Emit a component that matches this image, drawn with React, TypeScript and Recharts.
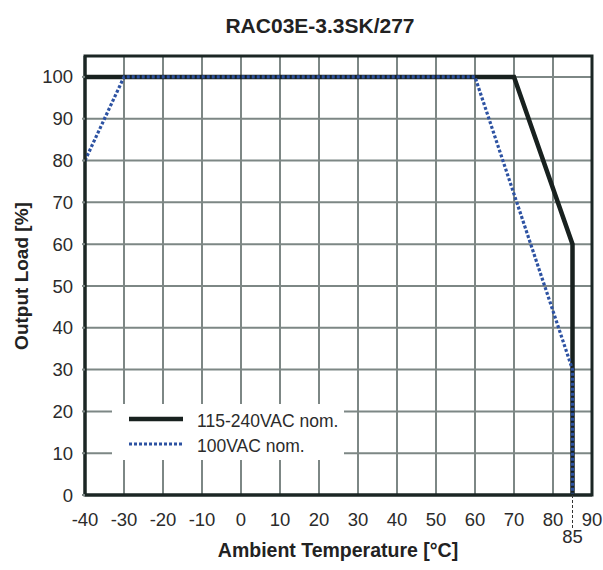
import React from 'react';
import { LineChart, Line, XAxis, YAxis, CartesianGrid, ReferenceArea, Legend } from 'recharts';

// axis ticks
const tempTicks = [-40, -30, -20, -10, 0, 10, 20, 30, 40, 50, 60, 70, 80, 90];
const loadTicks = [0, 10, 20, 30, 40, 50, 60, 70, 80, 90, 100];
const ratedTemp = 85;

// derating curves, ambient temperature [°C] -> output load [%]
const seriesNames = ['115-240VAC nom.', '100VAC nom.'];
const nominalInput = [
    { temp: -40, load: 100 },
    { temp: 70, load: 100 },
    { temp: 85, load: 60 },
    { temp: 85, load: 0 },
];
const lowInput = [
    { temp: -40, load: 80 },
    { temp: -30, load: 100 },
    { temp: 60, load: 100 },
    { temp: 85, load: 30 },
    { temp: 85, load: 0 },
];

const FONT = "'Liberation Sans', Arial, sans-serif";
const TEXT = '#2b2b2b';
const FRAME = '#1b2624';
const GRID = '#7d8785';
const BLUE = '#2d52a2';

const TempTick = (props: any) => {
    const { x, y, payload } = props;
    if (payload.value === ratedTemp) {
        return (
            <g>
                <line x1={x} x2={x} y1={y} y2={y + 33} stroke="#333" strokeWidth={1} strokeDasharray="3 2" />
                <text x={x} y={y + 48} textAnchor="middle" fill={TEXT} fontSize={18.5} fontFamily={FONT}>
                    {payload.value}
                </text>
            </g>
        );
    }
    return (
        <text x={x} y={y + 31} textAnchor="middle" fill={TEXT} fontSize={18.5} fontFamily={FONT}>
            {payload.value}
        </text>
    );
};

const LegendBox = (props: any) => {
    const items = [...(props.payload || [])].sort(
        (a: any, b: any) => seriesNames.indexOf(a.value) - seriesNames.indexOf(b.value)
    );
    return (
        <svg width={232} height={56} style={{ display: 'block', background: '#fff' }}>
            {items.map((item: any, i: number) => {
                const cy = 15 + i * 25;
                const dash = item.payload?.strokeDasharray;
                return (
                    <g key={item.value}>
                        <line
                            x1={17}
                            x2={71}
                            y1={cy}
                            y2={cy}
                            stroke={item.color}
                            strokeWidth={dash ? 3 : 4.5}
                            strokeDasharray={dash}
                        />
                        <text x={85} y={cy + 8} fill={TEXT} fontSize={17.5} fontFamily={FONT}>
                            {item.value}
                        </text>
                    </g>
                );
            })}
        </svg>
    );
};

const App = () => {
    return (
        <div style={{ position: 'absolute', left: 0, top: 0, width: 603, height: 570, background: '#fff' }}>
            <div
                style={{
                    position: 'absolute', left: 120, top: 13, width: 400, textAlign: 'center',
                    fontFamily: FONT, fontWeight: 'bold', fontSize: 21, color: '#222', lineHeight: '26px',
                }}
            >
                RAC03E-3.3SK/277
            </div>
            <div
                style={{
                    position: 'absolute', left: 88, top: 538, width: 500, textAlign: 'center',
                    fontFamily: FONT, fontWeight: 'bold', fontSize: 19.5, color: '#222', lineHeight: '24px',
                }}
            >
                Ambient Temperature [°C]
            </div>
            <div
                style={{
                    position: 'absolute', left: 22 - 100, top: 276 - 12, width: 200, textAlign: 'center',
                    transform: 'rotate(-90deg)', fontFamily: FONT, fontWeight: 'bold', fontSize: 19,
                    color: '#222', lineHeight: '24px',
                }}
            >
                Output Load [%]
            </div>
            <LineChart width={603} height={570} margin={{ top: 56, right: 11, bottom: 0, left: 0 }}>
                <CartesianGrid stroke={GRID} strokeWidth={2} verticalValues={tempTicks} horizontalValues={loadTicks} />
                <XAxis
                    type="number"
                    dataKey="temp"
                    domain={[-40, 90]}
                    ticks={[...tempTicks, ratedTemp]}
                    interval={0}
                    height={75}
                    tickSize={0}
                    tickMargin={0}
                    tick={<TempTick />}
                    axisLine={{ stroke: FRAME, strokeWidth: 3 }}
                    allowDataOverflow
                />
                <YAxis
                    type="number"
                    dataKey="load"
                    domain={[0, 105]}
                    ticks={loadTicks}
                    interval={0}
                    width={85}
                    tickSize={3}
                    tickMargin={9}
                    tick={{ fill: TEXT, fontSize: 18.5, fontFamily: FONT }}
                    tickLine={{ stroke: GRID, strokeWidth: 2 }}
                    axisLine={{ stroke: FRAME, strokeWidth: 3 }}
                    allowDataOverflow
                />
                <ReferenceArea x1={-40} x2={90} y1={0} y2={105} fill="none" stroke={FRAME} strokeWidth={3} />
                <Legend
                    layout="horizontal"
                    align="center"
                    verticalAlign="middle"
                    width={232}
                    height={56}
                    wrapperStyle={{ left: 112, top: 404, width: 232, height: 56 }}
                    content={<LegendBox />}
                />
                <Line
                    data={nominalInput}
                    dataKey="load"
                    name={seriesNames[0]}
                    type="linear"
                    stroke="#18211f"
                    strokeWidth={4.5}
                    dot={false}
                    activeDot={false}
                    isAnimationActive={false}
                />
                <Line
                    data={lowInput}
                    dataKey="load"
                    name={seriesNames[1]}
                    type="linear"
                    stroke={BLUE}
                    strokeWidth={3.2}
                    strokeDasharray="3 2"
                    dot={false}
                    activeDot={false}
                    isAnimationActive={false}
                />
            </LineChart>
        </div>
    );
};

export default App;
